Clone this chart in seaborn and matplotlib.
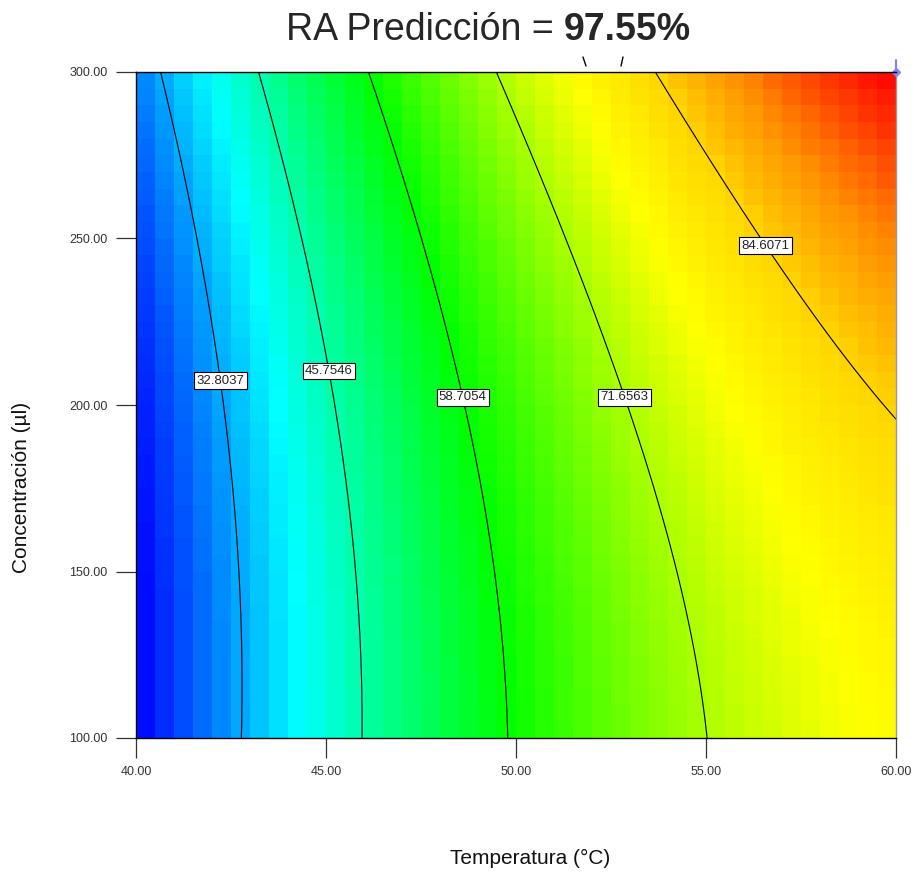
import numpy as np
import pandas as pd
import matplotlib
matplotlib.use("Agg")
import matplotlib.pyplot as plt
import seaborn as sns
from matplotlib.colors import LinearSegmentedColormap
from matplotlib.lines import Line2D

# response surface (coded units: A=(T-50)/10, B=(C-200)/100), coefficients
temp_range = [40.0, 60.0]
conc_range = [100.0, 300.0]
b0, bA, bB, bAB, bAA, bBB = 63.2, 31.8, 7.05, 2.3, -10.0, 3.2
levels = [32.8037, 45.7546, 58.7054, 71.6563, 84.6071]
z_min, z_max = 19.8528, 97.5580
x_ticks = [40, 45, 50, 55, 60]
y_ticks = [100, 150, 200, 250, 300]
# where the boxed labels sit (temperature, concentration)
label_pos = [(42.16, 207.2), (45.08, 210.2), (48.63, 202.4), (52.89, 202.4), (56.55, 247.7)]
n_cells = 40


def model(t, c):
    a = (t - 50.0) / 10.0
    b = (c - 200.0) / 100.0
    return b0 + bA * a + bB * b + bAB * a * b + bAA * a ** 2 + bBB * b ** 2


def to_idx_x(t):
    return (np.asarray(t) - temp_range[0]) / (temp_range[1] - temp_range[0]) * n_cells


def to_idx_y(c):
    return (np.asarray(c) - conc_range[0]) / (conc_range[1] - conc_range[0]) * n_cells


# cell centres
tc = np.linspace(temp_range[0], temp_range[1], n_cells + 1)
cc = np.linspace(conc_range[0], conc_range[1], n_cells + 1)
tc = (tc[:-1] + tc[1:]) / 2
cc = (cc[:-1] + cc[1:]) / 2
TT, CC = np.meshgrid(tc, cc)
grid = pd.DataFrame(model(TT, CC), index=cc, columns=tc)

cmap = LinearSegmentedColormap.from_list(
    "de", [(0.0, "#0000ff"), (0.25, "#00ffff"), (0.5, "#00ff00"), (0.75, "#ffff00"),
           (0.83, "#ffd800"), (0.9, "#ff9000"), (1.0, "#ff0000")])

sns.set_style("white")
plt.rcParams["font.family"] = ["Liberation Sans", "DejaVu Sans"]

fig = plt.figure(figsize=(9.14, 8.76), dpi=100)
ax = fig.add_axes([136 / 914, 1 - 738 / 876, 760 / 914, 666 / 876])

sns.heatmap(grid, cmap=cmap, vmin=z_min, vmax=z_max, cbar=False, ax=ax,
            linewidths=0, xticklabels=False, yticklabels=False)
ax.invert_yaxis()

# contour lines on a finer grid, mapped into heatmap index space
tf = np.linspace(temp_range[0], temp_range[1], 300)
cf = np.linspace(conc_range[0], conc_range[1], 300)
TF, CF = np.meshgrid(tf, cf)
cs = ax.contour(to_idx_x(TF), to_idx_y(CF), model(TF, CF), levels=levels,
                colors="black", linewidths=0.8)
manual = [(float(to_idx_x(t)), float(to_idx_y(c))) for t, c in label_pos]
labels = ax.clabel(cs, fmt="%.4f", manual=manual, inline=False, fontsize=9.5)
for t in labels:
    t.set_rotation(0)
    t.set_color("#222222")
    t.set_bbox(dict(facecolor="white", edgecolor="black", linewidth=0.8, pad=1.6))

ax.set_xlim(0, n_cells)
ax.set_ylim(0, n_cells)
ax.set_xticks(to_idx_x(x_ticks))
ax.set_xticklabels([f"{v:.2f}" for v in x_ticks], fontsize=9)
ax.set_yticks(to_idx_y(y_ticks))
ax.set_yticklabels([f"{v:.2f}" for v in y_ticks], fontsize=9)
ax.tick_params(axis="both", direction="out", length=14.5, width=0.9, color="#333333",
               labelcolor="#333333", bottom=True, left=True)
ax.tick_params(axis="x", pad=6)
ax.tick_params(axis="y", pad=6, rotation=0)
for name, sp in ax.spines.items():
    sp.set_visible(True)
    sp.set_color("black" if name != "right" else "#999999")
    sp.set_linewidth(1.0)
ax.set_xlabel("")
ax.set_ylabel("")

# prediction flag at top-right corner
ax.plot([1, 1], [1, 1.018], transform=ax.transAxes, color="#8080ff", lw=1.5, clip_on=False)
ax.plot([1], [1.0], transform=ax.transAxes, marker="D", ms=4, color="#8080ff", clip_on=False)

# small marks above the plot
fig.add_artist(Line2D([583 / 914, 586 / 914], [1 - 57 / 876, 1 - 66 / 876], color="black", lw=1))
fig.add_artist(Line2D([623 / 914, 621 / 914], [1 - 57 / 876, 1 - 66 / 876], color="black", lw=1))

fig.text(22 / 914, 1 - 487 / 876, "Concentración (µl)", rotation=90, ha="center", va="center",
         fontsize=15, color="#111111")
fig.text(530 / 914, 1 - 858 / 876, "Temperatura (°C)", ha="center", va="center",
         fontsize=15, color="#111111")

# title: regular + bold part, centred around x=488 px
ty = 1 - 40 / 876
t1 = fig.text(0, ty, "RA Predicción =", fontsize=27, ha="left", va="baseline")
t2 = fig.text(0, ty, "97.55%", fontsize=27, fontweight="bold", ha="left", va="baseline")
fig.canvas.draw()
r = fig.canvas.get_renderer()
w1 = t1.get_window_extent(r).width
w2 = t2.get_window_extent(r).width
gap = 10
x0 = 488 - (w1 + gap + w2) / 2
t1.set_x(x0 / 914)
t2.set_x((x0 + w1 + gap) / 914)

fig.savefig("out.png", dpi=100)
